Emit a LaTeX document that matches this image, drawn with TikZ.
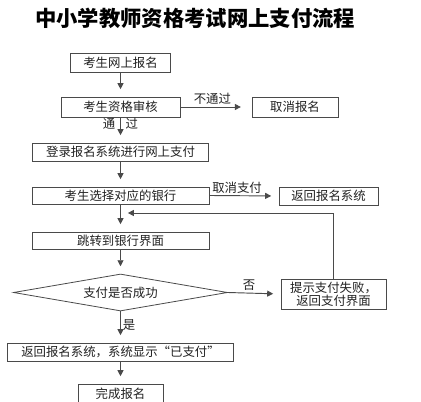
\documentclass[tikz,border=0pt]{standalone}
\usepackage{fontspec}
\setmainfont{Noto Sans CJK SC}
\usetikzlibrary{arrows.meta,calc,positioning,shapes.geometric}
\definecolor{payline}{HTML}{4A4A4A}
\definecolor{paytext}{HTML}{222222}
\newcommand{\paysmall}{\fontsize{9.3}{10}\selectfont}
\tikzset{
  paybox/.style={draw=payline, line width=0.7pt, fill=white, align=center, inner sep=1pt, font=\paysmall, text=paytext},
  paydiamond/.style={diamond, draw=payline, line width=0.6pt, aspect=5.8, inner sep=1pt, font=\paysmall, text=paytext},
  payarrow/.style={-{Triangle[length=4.5pt,width=4.5pt]}, line width=0.7pt, draw=payline, shorten >=5.5pt},
  paylabel/.style={font=\paysmall, text=paytext, inner sep=1.5pt}
}

\begin{document}
\begin{tikzpicture}[x=0.75pt,y=-0.75pt]

  \useasboundingbox (0,0) rectangle (421,402);
  \fill[white] (0,0) rectangle (421,402);

  % title
  \node[font=\fontsize{16}{18}\selectfont\bfseries, text=black] (title) at (195,18) {中小学教师资格考试网上支付流程};

  % nodes
  \node[paybox, minimum width=75pt, minimum height=14.25pt] (reg) at (120.5,62.5) {考生网上报名};
  \node[paybox, minimum width=89.25pt, minimum height=15pt] (check) at (120.5,107) {考生资格审核};
  \node[paybox, minimum width=64.5pt, minimum height=15pt] (cancel) at (295,107) {取消报名};
  \node[paybox, minimum width=132pt, minimum height=13.5pt] (login) at (120.5,152) {登录报名系统进行网上支付};
  \node[paybox, minimum width=132.75pt, minimum height=12.75pt] (bank) at (120.5,195.5) {考生选择对应的银行};
  \node[paybox, minimum width=74.25pt, minimum height=13.5pt] (back) at (328.5,196) {返回报名系统};
  \node[paybox, minimum width=132.75pt, minimum height=12.75pt] (jump) at (120.5,240.5) {跳转到银行界面};
  \node[paydiamond, minimum width=160.5pt, minimum height=27.75pt] (ok) at (120.5,292.5) {支付是否成功};
  \node[paybox, minimum width=78.75pt, minimum height=22.5pt] (fail) at (333.5,294) {提示支付失败，\\返回支付界面};
  \node[paybox, minimum width=169.5pt, minimum height=13.5pt] (done) at (120.5,352) {返回报名系统，系统显示“已支付”};
  \node[paybox, minimum width=63.75pt, minimum height=15pt] (finish) at (120.5,394) {完成报名};

  \coordinate (loopin) at (120.5,213);

  % arrows
  \draw[payarrow] (reg.south) -- (check.north);
  \draw[payarrow, shorten >=8pt] (check.east) -- node[paylabel, above, pos=0.45] {不通过} (cancel.west);
  \draw[payarrow] (check.south) -- node[paylabel, left, pos=0.25, inner sep=3.5pt] {通} node[paylabel, right, pos=0.25, inner sep=3.5pt] {过} (login.north);
  \draw[payarrow] (login.south) -- (bank.north);
  \draw[payarrow] (bank.east) -- node[paylabel, above, pos=0.4] {取消支付} (back.west);
  \draw[payarrow] (bank.south) -- (jump.north);
  \draw[payarrow] (jump.south) -- (ok.north);
  \draw[payarrow] (ok.east) -- node[paylabel, above, pos=0.4] {否} (fail.west);
  \draw[payarrow] (fail.north) |- (loopin);
  \draw[payarrow] (ok.south) -- node[paylabel, right, pos=0.45] {是} (done.north);
  \draw[payarrow] (done.south) -- (finish.north);

\end{tikzpicture}
\end{document}
